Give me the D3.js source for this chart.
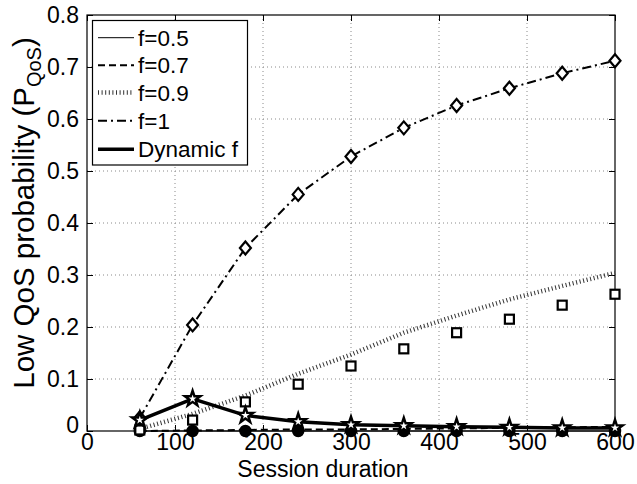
<!DOCTYPE html>
<html>
<head>
<meta charset="utf-8">
<script src="https://cdn.jsdelivr.net/npm/d3@7"></script>
<style>
  body { margin: 0; background: #fff; }
  svg { display: block; }
  text { font-family: "Liberation Sans", Arial, Helvetica, sans-serif; fill: #000; }
</style>
</head>
<body>
<svg id="chart" width="637" height="484"></svg>
<script>
// ---- data ----
const durations = [60, 120, 180, 240, 300, 360, 420, 480, 540, 600];
const f05Line = [0, 0, 0, 0, 0, 0, 0, 0, 0, 0];
const f07Line = [0, 0.001, 0.002, 0.003, 0.003, 0.004, 0.005, 0.006, 0.007, 0.008];
const f09Line = [0.004, 0.033, 0.068, 0.11, 0.147, 0.189, 0.222, 0.253, 0.279, 0.304];
const f1Line  = [0.025, 0.204, 0.352, 0.455, 0.528, 0.583, 0.626, 0.659, 0.688, 0.712];
const dynLine = [0.021, 0.062, 0.030, 0.018, 0.012, 0.010, 0.008, 0.007, 0.006, 0.006];
const f05Marks = [0, 0, 0, 0, 0, 0, 0, 0, 0, 0];
const f09Marks = [0.002, 0.021, 0.056, 0.09, 0.125, 0.158, 0.189, 0.215, 0.242, 0.263];
const f1Marks  = [0.025, 0.204, 0.352, 0.455, 0.528, 0.583, 0.626, 0.659, 0.688, 0.712];
const dynMarks = [0.021, 0.062, 0.030, 0.018, 0.012, 0.010, 0.008, 0.007, 0.006, 0.006];
const xTicks = [0, 100, 200, 300, 400, 500, 600];
const yTicks = [0, 0.1, 0.2, 0.3, 0.4, 0.5, 0.6, 0.7, 0.8];
const legendLabels = ["f=0.5", "f=0.7", "f=0.9", "f=1", "Dynamic f"];

// ---- layout ----
const L = 87, R = 615, T = 15, B = 431;
const svg = d3.select("#chart");
const x = d3.scaleLinear().domain([0, 600]).range([L, R]);
const y = d3.scaleLinear().domain([0, 0.8]).range([B, T]);
const FS = 23;

// grid
const grid = svg.append("g").attr("stroke", "#8a8a8a").attr("stroke-width", 1).attr("stroke-dasharray", "1,3");
xTicks.filter(v => v > 0 && v < 600).forEach(v => {
  grid.append("line").attr("x1", x(v)).attr("x2", x(v)).attr("y1", T).attr("y2", B);
});
yTicks.filter(v => v > 0 && v < 0.8).forEach(v => {
  grid.append("line").attr("x1", L).attr("x2", R).attr("y1", y(v)).attr("y2", y(v));
});

// axes (ticks inside, mirrored)
const axB = svg.append("g").attr("transform", `translate(0,${B})`)
  .call(d3.axisBottom(x).tickValues(xTicks).tickSize(-6).tickPadding(8).tickFormat(d3.format("d")));
const axT = svg.append("g").attr("transform", `translate(0,${T})`)
  .call(d3.axisTop(x).tickValues(xTicks).tickSize(-6).tickFormat(""));
const axL = svg.append("g").attr("transform", `translate(${L},0)`)
  .call(d3.axisLeft(y).tickValues(yTicks).tickSize(-6).tickPadding(8).tickFormat(d => d === 0 ? "0" : d3.format(".1f")(d)));
const axR = svg.append("g").attr("transform", `translate(${R},0)`)
  .call(d3.axisRight(y).tickValues(yTicks).tickSize(-6).tickFormat(""));
[axB, axT, axL, axR].forEach(a => {
  a.select(".domain").remove();
  a.selectAll(".tick line").attr("stroke", "#000").attr("stroke-width", 1);
  a.selectAll("text").attr("font-size", FS).attr("font-family", "Liberation Sans, Arial, sans-serif").attr("fill", "#000");
});
axB.selectAll(".tick text").attr("dy", "0.72em").attr("y", 2);
axL.selectAll(".tick text").filter(d => d === 0).attr("dy", "0.05em");
svg.append("rect").attr("x", L).attr("y", T).attr("width", R - L).attr("height", B - T)
  .attr("fill", "none").attr("stroke", "#000").attr("stroke-width", 1.2);

// series lines
const line = d3.line().x((d, i) => x(durations[i])).y(d => y(d));
const plot = svg.append("g");
const styles = [
  { data: f05Line, w: 1, dash: null, color: "#000" },
  { data: f07Line, w: 2, dash: "7,4", color: "#000" },
  { data: f09Line, w: 4.5, dash: "1,2.6", color: "#333" },
  { data: f1Line,  w: 2, dash: "9,4,2,4", color: "#000" },
  { data: dynLine, w: 3.5, dash: null, color: "#000" }
];
styles.forEach(s => {
  plot.append("path").attr("d", line(s.data)).attr("fill", "none")
    .attr("stroke", s.color).attr("stroke-width", s.w)
    .attr("stroke-dasharray", s.dash);
});

// markers
const mk = svg.append("g");
mk.selectAll(".circ").data(f05Marks).enter().append("circle")
  .attr("cx", (d, i) => x(durations[i])).attr("cy", d => y(d)).attr("r", 5.5)
  .attr("fill", "#000").attr("stroke", "#000").attr("stroke-width", 1.5);
mk.selectAll(".sq").data(f09Marks).enter().append("rect")
  .attr("x", (d, i) => x(durations[i]) - 4.5).attr("y", d => y(d) - 4.5)
  .attr("width", 9).attr("height", 9).attr("fill", "#fff").attr("stroke", "#000").attr("stroke-width", 2.2);
const diamond = "M0,-6.5L5.5,0L0,6.5L-5.5,0Z";
mk.selectAll(".dia").data(f1Marks).enter().append("path")
  .attr("transform", (d, i) => `translate(${x(durations[i])},${y(d)})`)
  .attr("d", diamond).attr("fill", "#fff").attr("stroke", "#000").attr("stroke-width", 2.2);
const star = d3.symbol().type(d3.symbolStar).size(75)();
mk.selectAll(".star").data(dynMarks).enter().append("path")
  .attr("transform", (d, i) => `translate(${x(durations[i])},${y(d)})`)
  .attr("d", star).attr("fill", "#fff").attr("stroke", "#000").attr("stroke-width", 2.4);

// legend
const lg = svg.append("g");
lg.append("rect").attr("x", 92.5).attr("y", 20.5).attr("width", 155).attr("height", 144.5)
  .attr("fill", "#fff").attr("stroke", "#000").attr("stroke-width", 1.2);
const legY = [37.7, 65.3, 92.5, 120.7, 149.3];
legendLabels.forEach((lab, i) => {
  const s = styles[i];
  lg.append("line").attr("x1", 98).attr("x2", 134).attr("y1", legY[i]).attr("y2", legY[i])
    .attr("stroke", s.color).attr("stroke-width", s.w).attr("stroke-dasharray", s.dash);
  lg.append("text").attr("x", 138).attr("y", legY[i]).attr("dy", "0.36em")
    .attr("font-size", 22.5).text(lab);
});

// axis labels
svg.append("text").attr("x", 323).attr("y", 477).attr("text-anchor", "middle")
  .attr("font-size", FS).text("Session duration");
const yl = svg.append("text").attr("transform", `translate(34,213) rotate(-90)`)
  .attr("text-anchor", "middle").attr("font-size", 29.5);
yl.append("tspan").text("Low QoS probability (P");
yl.append("tspan").attr("font-size", 20).attr("dy", 7).text("QoS");
yl.append("tspan").attr("dy", -7).text(")");
</script>
</body>
</html>
